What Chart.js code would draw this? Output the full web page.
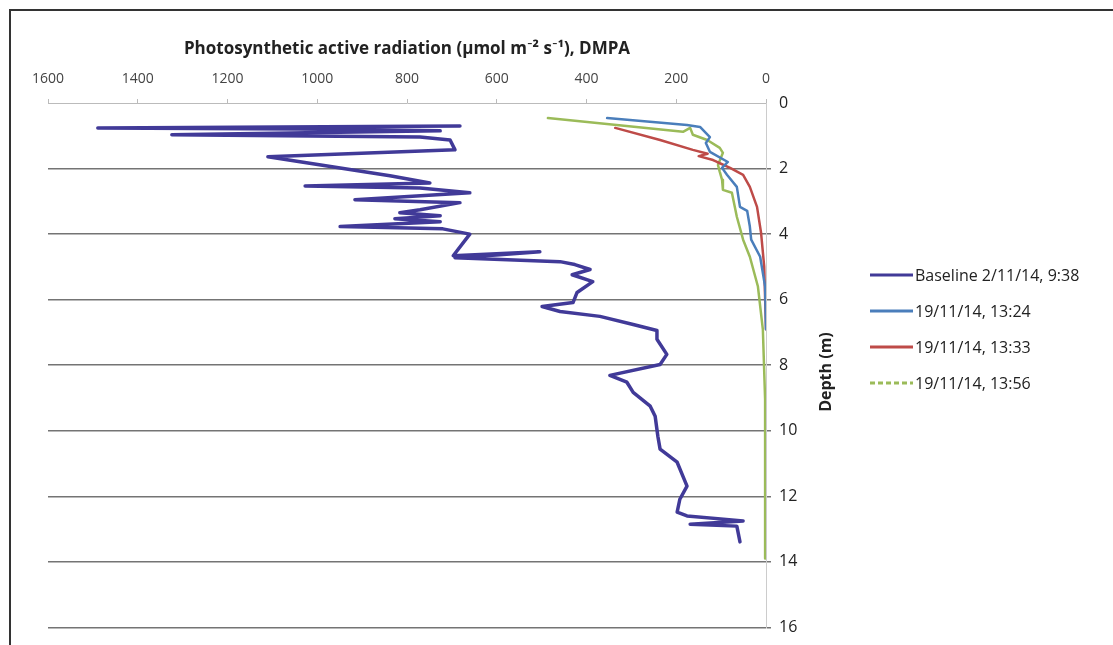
<!DOCTYPE html>
<html>
<head>
<meta charset="utf-8">
<script src="https://cdn.jsdelivr.net/npm/chart.js@4.4.0/dist/chart.umd.min.js"></script>
<style>
  html, body { margin: 0; padding: 0; background: #fff; }
  #wrap { position: relative; width: 1113px; height: 645px; overflow: hidden; }
  #frame { position: absolute; left: 9px; top: 9px; width: 1200px; height: 700px;
           border-left: 2px solid #333; border-top: 2px solid #333; pointer-events: none; }
  canvas { position: absolute; left: 0; top: 0; }
</style>
</head>
<body>
<div id="wrap">
  <canvas id="parChart" width="1113" height="645"></canvas>
  <div id="frame"></div>
</div>
<script>
// PAR profiles (umol m-2 s-1) against depth (m)
const seriesLabels = ['Baseline 2/11/14, 9:38', '19/11/14, 13:24', '19/11/14, 13:33', '19/11/14, 13:56'];
const xTickValues = [0, 200, 400, 600, 800, 1000, 1200, 1400, 1600];
const yTickValues = [0, 2, 4, 6, 8, 10, 12, 14, 16];

const baselinePar = [682, 1489, 1038, 726, 1324, 771, 704, 693, 1110, 838,
    749, 1027, 771, 660, 916, 682, 771, 816, 726, 827,
    726, 949, 720, 660, 697, 504, 593, 693, 459, 426,
    392, 432, 386, 421, 430, 499, 459, 370, 296, 243,
    243, 221, 236, 348, 310, 296, 258, 247, 241, 236,
    198, 185, 176, 192, 198, 176, 51, 169, 65, 58];
const baselineDepth = [0.70, 0.76, 0.79, 0.85, 0.97, 1.04, 1.13, 1.43, 1.64, 2.22,
    2.44, 2.53, 2.59, 2.74, 2.95, 3.04, 3.26, 3.35, 3.44, 3.53,
    3.62, 3.77, 3.84, 4.00, 4.66, 4.54, 4.63, 4.72, 4.84, 4.93,
    5.08, 5.24, 5.45, 5.78, 6.09, 6.21, 6.36, 6.51, 6.76, 6.94,
    7.21, 7.67, 7.98, 8.31, 8.52, 8.83, 9.25, 9.56, 10.17, 10.56,
    10.96, 11.39, 11.69, 12.09, 12.48, 12.60, 12.75, 12.85, 12.91, 13.39];

const run1324Par = [354, 176, 147, 125, 134, 125, 85, 98, 87, 65, 58, 42, 36, 33, 13, 2, 0];
const run1324Depth = [0.46, 0.67, 0.73, 1.04, 1.22, 1.49, 1.80, 1.98, 2.19, 2.56, 3.17, 3.29, 3.77, 4.17, 4.69, 5.6, 6.9];

const run1333Par = [336, 236, 163, 130, 150, 118, 109, 80, 51, 36, 20, 11, 4, 0];
const run1333Depth = [0.76, 1.13, 1.43, 1.55, 1.62, 1.74, 1.80, 1.98, 2.19, 2.56, 3.17, 3.96, 4.99, 6.9];

const run1356Par = [486, 185, 169, 163, 131, 103, 96, 107, 103, 98, 96, 76, 65, 51, 36, 18, 7, 2, 2];
const run1356Depth = [0.46, 0.88, 0.76, 0.97, 1.13, 1.37, 1.52, 1.89, 2.10, 2.34, 2.65, 2.74, 3.47, 4.17, 4.69, 5.60, 6.91, 9.04, 13.9];

const colors = ['#413a98', '#4a7ebb', '#be4b48', '#9bbb59'];
const legendDash = [[], [], [], [5, 3]];

function toPoints(xs, ys) {
    return xs.map((v, i) => ({ x: v, y: ys[i] }));
}

const fontFamily = '"Open Sans", Lato, sans-serif';

// y title + legend drawn at the right, like the original
const sideLabels = {
    id: 'sideLabels',
    afterDraw(chart) {
        const ctx = chart.ctx;
        ctx.save();
        ctx.translate(826, 372);
        ctx.rotate(-Math.PI / 2);
        ctx.font = 'bold 16px ' + fontFamily;
        ctx.fillStyle = '#222';
        ctx.textAlign = 'center';
        ctx.textBaseline = 'middle';
        ctx.fillText('Depth (m)', 0, 0);
        ctx.restore();

        chart.data.datasets.forEach((ds, i) => {
            const y = 275 + i * 36;
            ctx.save();
            ctx.strokeStyle = ds.borderColor;
            ctx.lineWidth = 3;
            ctx.setLineDash(legendDash[i]);
            ctx.beginPath();
            ctx.moveTo(870, y);
            ctx.lineTo(913, y);
            ctx.stroke();
            ctx.setLineDash([]);
            ctx.font = '16px ' + fontFamily;
            ctx.fillStyle = '#222';
            ctx.textBaseline = 'middle';
            ctx.fillText(ds.label, 915, y + 1);
            ctx.restore();
        });
    }
};

const data = {
    datasets: [{
        label: seriesLabels[0],
        data: toPoints(baselinePar, baselineDepth),
        borderColor: colors[0],
        borderWidth: 3.5
    }, {
        label: seriesLabels[1],
        data: toPoints(run1324Par, run1324Depth),
        borderColor: colors[1],
        borderWidth: 2.5
    }, {
        label: seriesLabels[2],
        data: toPoints(run1333Par, run1333Depth),
        borderColor: colors[2],
        borderWidth: 2.5
    }, {
        label: seriesLabels[3],
        data: toPoints(run1356Par, run1356Depth),
        borderColor: colors[3],
        borderWidth: 2.5
    }]
};

const config = {
    type: 'scatter',
    data: data,
    options: {
        responsive: false,
        animation: false,
        showLine: true,
        elements: { point: { radius: 0 }, line: { tension: 0, borderJoinStyle: 'round', borderCapStyle: 'round' } },
        layout: { padding: { left: 48, top: 0, right: 0, bottom: 16 } },
        plugins: { legend: { display: false }, tooltip: { enabled: false } },
        scales: {
            x: {
                type: 'linear',
                position: 'top',
                reverse: true,
                min: 0,
                max: 1600,
                afterBuildTicks: s => { s.ticks = xTickValues.map(v => ({ value: v })); },
                ticks: {
                    color: '#444',
                    font: { family: fontFamily, size: 14 },
                    padding: 12,
                    callback: v => String(v)
                },
                grid: { drawOnChartArea: false, tickLength: 4, color: '#bbb' },
                border: { color: '#bbb' },
                title: {
                    display: true,
                    text: 'Photosynthetic active radiation (µmol m⁻² s⁻¹), DMPA',
                    color: '#222',
                    font: { family: fontFamily, size: 17, weight: 'bold' },
                    padding: { top: 39, bottom: 0 }
                },
                afterFit: s => { s.height = 103; }
            },
            y: {
                type: 'linear',
                position: 'right',
                reverse: true,
                min: 0,
                max: 16,
                afterBuildTicks: s => { s.ticks = yTickValues.map(v => ({ value: v })); },
                ticks: { color: '#222', font: { family: fontFamily, size: 16 }, padding: 8 },
                grid: {
                    color: c => (c.tick && c.tick.value === 0) ? 'rgba(0,0,0,0)' : 'rgba(70,70,70,0.75)',
                    lineWidth: 1.5,
                    tickLength: 5
                },
                border: { color: '#ccc' },
                afterFit: s => { s.width = 347; }
            }
        }
    },
    plugins: [sideLabels]
};

const parChart = new Chart(document.getElementById('parChart'), config);
</script>
</body>
</html>
